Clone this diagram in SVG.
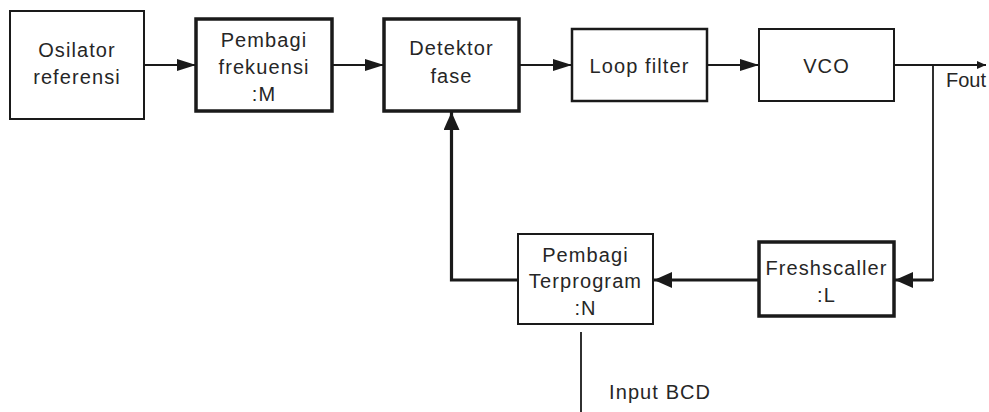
<svg xmlns="http://www.w3.org/2000/svg" width="989" height="412" viewBox="0 0 989 412">
  <style>
    .box { fill: #ffffff; stroke: #1a1a1a; }
    .thin { stroke-width: 2; }
    .mid { stroke-width: 2.5; }
    .thick { stroke-width: 3.5; }
    .lbl { font-family: "Liberation Sans", Arial, sans-serif; font-size: 20px; fill: #262626; letter-spacing: 1.1px; text-anchor: middle; }
    .free { text-anchor: start; }
    .tight { letter-spacing: 0; }
    .wire { fill: none; stroke: #1a1a1a; stroke-width: 1.8; }
    .bus { fill: none; stroke: #1a1a1a; stroke-width: 3.2; }
  </style>
  <defs>
    <marker id="arr" markerUnits="userSpaceOnUse" viewBox="0 0 19 12" refX="19" refY="6" markerWidth="19" markerHeight="12" orient="auto">
      <path d="M0,0 L19,6 L0,12 Z" fill="#1a1a1a"/>
    </marker>
    <marker id="arrBig" markerUnits="userSpaceOnUse" viewBox="0 0 18 16" refX="18" refY="8" markerWidth="18" markerHeight="16" orient="auto">
      <path d="M0,0 L18,8 L0,16 Z" fill="#1a1a1a"/>
    </marker>
    <marker id="arrSmall" markerUnits="userSpaceOnUse" viewBox="0 0 9 8" refX="9" refY="4" markerWidth="9" markerHeight="8" orient="auto">
      <path d="M0,0 L9,4 L0,8 Z" fill="#1a1a1a"/>
    </marker>
  </defs>

  <g id="osilator">
    <rect class="box thin" x="10" y="11" width="134" height="108"/>
    <text class="lbl" x="77" y="57">Osilator</text>
    <text class="lbl" x="77" y="84">referensi</text>
  </g>

  <g id="pembagi-frekuensi">
    <rect class="box thick" x="196" y="19" width="136" height="92"/>
    <text class="lbl" x="264" y="47">Pembagi</text>
    <text class="lbl" x="264" y="74">frekuensi</text>
    <text class="lbl" x="264" y="101">:M</text>
  </g>

  <g id="detektor-fase">
    <rect class="box thick" x="384" y="19" width="135" height="92"/>
    <text class="lbl" x="451.5" y="55">Detektor</text>
    <text class="lbl" x="451.5" y="83">fase</text>
  </g>

  <g id="loop-filter">
    <rect class="box mid" x="572" y="29" width="135" height="72"/>
    <text class="lbl" x="639.5" y="73">Loop filter</text>
  </g>

  <g id="vco">
    <rect class="box thin" x="759" y="29" width="135" height="72"/>
    <text class="lbl" x="826.5" y="73">VCO</text>
  </g>

  <g id="freshscaller">
    <rect class="box thick" x="759" y="242" width="135" height="74"/>
    <text class="lbl" x="826.5" y="275">Freshscaller</text>
    <text class="lbl" x="826.5" y="302">:L</text>
  </g>

  <g id="pembagi-terprogram">
    <rect class="box thin" x="518" y="234" width="135" height="90"/>
    <text class="lbl" x="585.5" y="262">Pembagi</text>
    <text class="lbl" x="585.5" y="288">Terprogram</text>
    <text class="lbl" x="585.5" y="315">:N</text>
  </g>

  <g id="connectors">
    <line class="wire" x1="144" y1="65" x2="196" y2="65" marker-end="url(#arr)"/>
    <line class="wire" x1="332" y1="65" x2="384" y2="65" marker-end="url(#arr)"/>
    <line class="wire" x1="519" y1="65" x2="572" y2="65" marker-end="url(#arr)"/>
    <line class="wire" x1="707" y1="65" x2="759" y2="65" marker-end="url(#arr)"/>
    <line class="wire" x1="894" y1="65" x2="986" y2="65" marker-end="url(#arrSmall)"/>
    <polyline class="wire" points="933,65 933,280 920,280"/>
    <line class="bus" x1="933" y1="280" x2="895" y2="280" marker-end="url(#arrBig)"/>
    <line class="bus" x1="759" y1="280" x2="654" y2="280" marker-end="url(#arrBig)"/>
    <polyline class="bus" points="518,280 451.5,280 451.5,112" marker-end="url(#arrBig)"/>
    <line class="wire" x1="581" y1="332" x2="581" y2="412"/>
  </g>

  <g id="labels">
    <text class="lbl free tight" x="946" y="87">Fout</text>
    <text class="lbl free" x="609" y="399">Input BCD</text>
  </g>
</svg>
